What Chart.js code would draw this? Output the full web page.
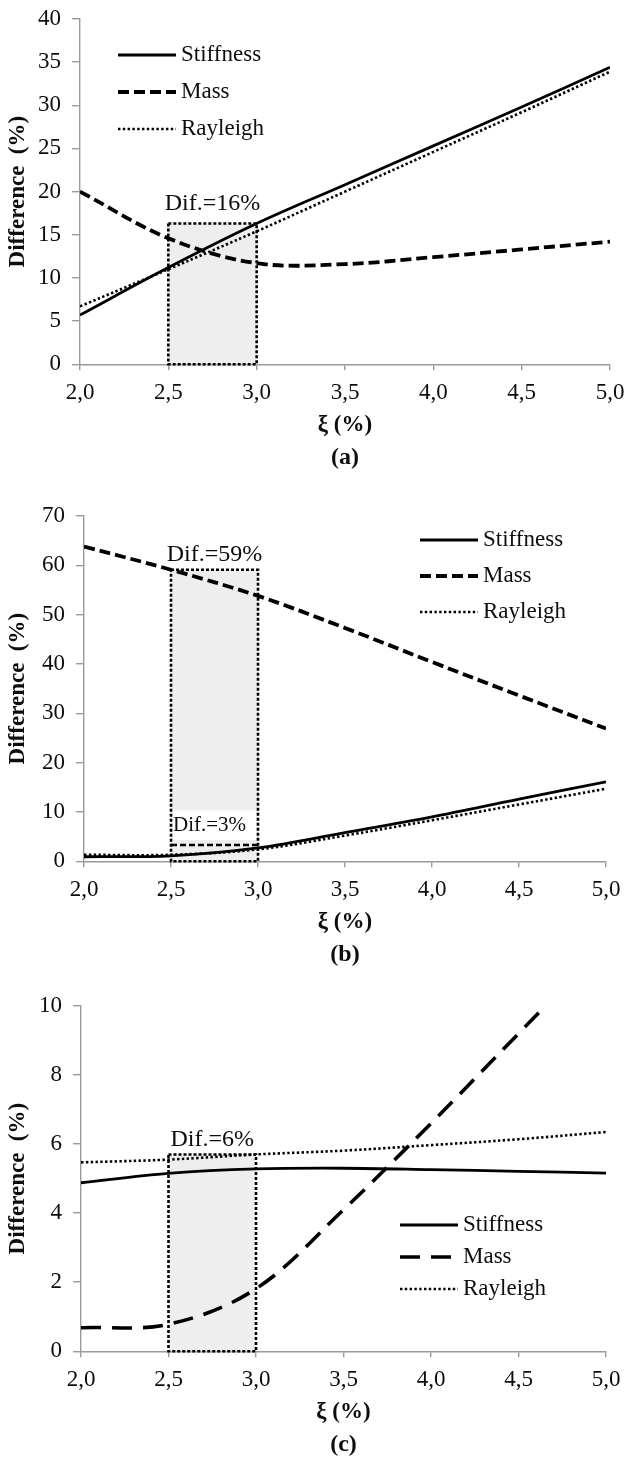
<!DOCTYPE html>
<html>
<head>
<meta charset="utf-8">
<script src="https://cdn.jsdelivr.net/npm/chart.js@4.4.1/dist/chart.umd.min.js"></script>
<style>
    html, body { margin: 0; padding: 0; background: #fff; }
    body { width: 628px; height: 1462px; position: relative; overflow: hidden; }
    .panel { position: absolute; left: 0; width: 628px; height: 472px; }
</style>
</head>
<body>
<div class="panel" style="top: 0px;"><canvas id="chartA"></canvas></div>
<div class="panel" style="top: 497px;"><canvas id="chartB"></canvas></div>
<div class="panel" style="top: 987px;"><canvas id="chartC"></canvas></div>

<script>
// damping ratio values shared by all three panels
const xi = [2.0, 2.5, 3.0, 3.5, 4.0, 4.5, 5.0];
const xTicks = [2.0, 2.5, 3.0, 3.5, 4.0, 4.5, 5.0];
const xTickLabels = ['2,0', '2,5', '3,0', '3,5', '4,0', '4,5', '5,0'];

// (a)
const stiffA = [5.7, 11.2, 16.3, 20.8, 25.3, 29.8, 34.4];
const massA = [20.0, 14.6, 11.7, 11.6, 12.4, 13.3, 14.2];
const rayA = [6.7, 11.0, 15.4, 20.0, 24.6, 29.2, 33.9];
const yTicksA = [0, 5, 10, 15, 20, 25, 30, 35, 40];

// (b)
const stiffB = [0.9, 1.1, 2.7, 5.8, 9.0, 12.6, 16.1];
const massB = [63.8, 59.1, 53.8, 47.3, 40.4, 33.6, 26.9];
const rayB = [1.3, 1.3, 2.4, 5.2, 8.3, 11.5, 14.7];
const yTicksB = [0, 10, 20, 30, 40, 50, 60, 70];

// (c)
const stiffC = [4.88, 5.15, 5.28, 5.30, 5.26, 5.21, 5.16];
const massC = [0.68, 0.78, 1.81, 4.1, 6.6, 9.2, 11.8];
const rayC = [5.47, 5.55, 5.70, 5.81, 5.97, 6.14, 6.35];
const yTicksC = [0, 2, 4, 6, 8, 10];

// shaded ranges [x0, x1, y0, y1]
const boxA = [2.5, 3.0, 0, stiffA[2]];
const boxB = [2.5, 3.0, 0, massB[1]];
const boxC = [2.5, 3.0, 0, rayC[2]];
const innerPatchB = [2.5, 3.0, 4.3, 10.3];
const innerTopB = 3.3;

const SERIF = '"Liberation Serif", "Times New Roman", serif';
Chart.defaults.font.family = SERIF;
Chart.defaults.font.size = 23;
Chart.defaults.color = '#0d0d0d';

const AXIS_GREY = '#9a9a9a';

function series(data, label, style) {
    const base = {
        label: label,
        data: xi.map((x, i) => ({ x: x, y: data[i] })),
        borderColor: '#000',
        pointRadius: 0,
        tension: 0.35,
        fill: false
    };
    return Object.assign(base, style);
}

const solid = { borderWidth: 2.8 };
const dotted = { borderWidth: 2.6, borderDash: [2.4, 2.4] };

const difBoxPlugin = {
    id: 'difBox',
    beforeDatasetsDraw(chart, args, opts) {
        const { ctx, scales: { x, y } } = chart;
        const [x0, x1, y0, y1] = opts.box;
        const left = x.getPixelForValue(x0);
        const right = x.getPixelForValue(x1);
        const top = y.getPixelForValue(y1);
        const bottom = y.getPixelForValue(y0);
        ctx.save();
        ctx.fillStyle = '#eeeeee';
        ctx.fillRect(left, top, right - left, bottom - top);

        if (opts.inner) {
            const [px0, px1, py0, py1] = opts.inner.patch;
            const pl = x.getPixelForValue(px0) + 2;
            const pr = x.getPixelForValue(px1) - 2;
            const pt = y.getPixelForValue(py1);
            const pb = y.getPixelForValue(py0);
            ctx.fillStyle = '#ffffff';
            ctx.fillRect(pl, pt, pr - pl, pb - pt);

            const ty = y.getPixelForValue(opts.inner.top);
            ctx.strokeStyle = '#000';
            ctx.lineWidth = 2.5;
            ctx.setLineDash([6, 3]);
            ctx.beginPath();
            ctx.moveTo(left, ty);
            ctx.lineTo(right, ty);
            ctx.stroke();
        }

        ctx.strokeStyle = '#000';
        ctx.lineWidth = 2.6;
        ctx.setLineDash([3, 2]);
        ctx.strokeRect(left, top, right - left, bottom - top);
        ctx.restore();
    },
    afterDatasetsDraw(chart, args, opts) {
        const { ctx, scales: { x, y } } = chart;
        const [x0, x1, , y1] = opts.box;
        const cx = (x.getPixelForValue(x0) + x.getPixelForValue(x1)) / 2;
        ctx.save();
        ctx.fillStyle = '#0d0d0d';
        ctx.textAlign = 'center';
        ctx.textBaseline = 'middle';
        ctx.font = '24px ' + SERIF;
        ctx.fillText(opts.label, cx, y.getPixelForValue(y1) - opts.gap);

        if (opts.inner) {
            const [, , py0, py1] = opts.inner.patch;
            const my = (y.getPixelForValue(py0) + y.getPixelForValue(py1)) / 2;
            ctx.font = '21px ' + SERIF;
            ctx.fillText(opts.inner.label, cx - 5, my);
        }
        ctx.restore();
    }
};

// legend drawn inside the plot area from the dataset styles
const lineKeyPlugin = {
    id: 'lineKey',
    afterDatasetsDraw(chart, args, opts) {
        const { ctx } = chart;
        chart.data.datasets.forEach((ds, i) => {
            const yy = opts.y + i * opts.gap;
            ctx.save();
            ctx.strokeStyle = ds.borderColor;
            ctx.lineWidth = ds.borderWidth;
            ctx.setLineDash(ds.borderDash || []);
            ctx.beginPath();
            ctx.moveTo(opts.x, yy);
            ctx.lineTo(opts.x + opts.len, yy);
            ctx.stroke();
            ctx.setLineDash([]);
            ctx.fillStyle = '#0d0d0d';
            ctx.font = '23px ' + SERIF;
            ctx.textBaseline = 'middle';
            ctx.textAlign = 'left';
            ctx.fillText(ds.label, opts.x + opts.len + 5, yy);
            ctx.restore();
        });
    }
};

function makeChart(id, cfg) {
    const ctx = document.getElementById(id).getContext('2d');
    return new Chart(ctx, {
        type: 'line',
        data: {
            datasets: [
                series(cfg.stiff, 'Stiffness', solid),
                series(cfg.mass, 'Mass', cfg.massStyle),
                series(cfg.ray, 'Rayleigh', dotted)
            ]
        },
        options: {
            responsive: true,
            maintainAspectRatio: false,
            animation: false,
            events: [],
            layout: { padding: { top: 19, right: cfg.right, left: 0, bottom: 0 } },
            scales: {
                x: {
                    type: 'linear',
                    min: 2,
                    max: 5,
                    afterBuildTicks: s => { s.ticks = xTicks.map(v => ({ value: v })); },
                    afterFit: s => { s.height = 75; s.paddingLeft = 0; s.paddingRight = 0; },
                    ticks: {
                        padding: 9,
                        maxRotation: 0,
                        autoSkip: false,
                        callback: (v, i) => xTickLabels[i]
                    },
                    grid: { drawOnChartArea: false, drawTicks: true, tickLength: 6, color: AXIS_GREY, lineWidth: 1.4 },
                    border: { display: true, color: AXIS_GREY, width: 1.4 },
                    title: {
                        display: true,
                        text: 'ξ (%)',
                        font: { size: 23, weight: 'bold' },
                        color: '#0d0d0d',
                        padding: { top: 0, bottom: 0 }
                    }
                },
                y: {
                    type: 'linear',
                    min: cfg.yTicks[0],
                    max: cfg.yTicks[cfg.yTicks.length - 1],
                    afterBuildTicks: s => { s.ticks = cfg.yTicks.map(v => ({ value: v })); },
                    afterFit: s => { s.width = cfg.left; s.paddingTop = 0; s.paddingBottom = 0; },
                    ticks: { padding: 11, autoSkip: false },
                    grid: { drawOnChartArea: false, drawTicks: true, tickLength: 8, color: AXIS_GREY, lineWidth: 1.4 },
                    border: { display: true, color: AXIS_GREY, width: 1.4 },
                    title: {
                        display: true,
                        text: 'Difference  (%)',
                        font: { size: 23, weight: 'bold' },
                        color: '#0d0d0d',
                        padding: { top: 4, bottom: 0 }
                    }
                }
            },
            plugins: {
                legend: { display: false },
                tooltip: { enabled: false },
                title: {
                    display: true,
                    position: 'bottom',
                    fullSize: false,
                    text: cfg.caption,
                    color: '#0d0d0d',
                    font: { size: 24, weight: 'bold' },
                    padding: { top: 4, bottom: 0 }
                },
                difBox: cfg.difBox,
                lineKey: cfg.key
            }
        },
        plugins: [difBoxPlugin, lineKeyPlugin]
    });
}

document.addEventListener('DOMContentLoaded', () => {
    makeChart('chartA', {
        stiff: stiffA, mass: massA, ray: rayA, yTicks: yTicksA,
        massStyle: { borderWidth: 3.8, borderDash: [11, 5] },
        left: 80, right: 18, caption: '(a)',
        difBox: { box: boxA, label: 'Dif.=16%', gap: 20 },
        key: { x: 118, y: 55, gap: 37, len: 58 }
    });

    makeChart('chartB', {
        stiff: stiffB, mass: massB, ray: rayB, yTicks: yTicksB,
        massStyle: { borderWidth: 3.8, borderDash: [11, 5] },
        left: 84, right: 22, caption: '(b)',
        difBox: {
            box: boxB, label: 'Dif.=59%', gap: 15,
            inner: { patch: innerPatchB, top: innerTopB, label: 'Dif.=3%' }
        },
        key: { x: 420, y: 43, gap: 36, len: 58 }
    });

    makeChart('chartC', {
        stiff: stiffC, mass: massC, ray: rayC, yTicks: yTicksC,
        massStyle: { borderWidth: 3.6, borderDash: [20, 11] },
        left: 81, right: 22, caption: '(c)',
        difBox: { box: boxC, label: 'Dif.=6%', gap: 15 },
        key: { x: 400, y: 238, gap: 32, len: 58 }
    });
});
</script>
</body>
</html>
